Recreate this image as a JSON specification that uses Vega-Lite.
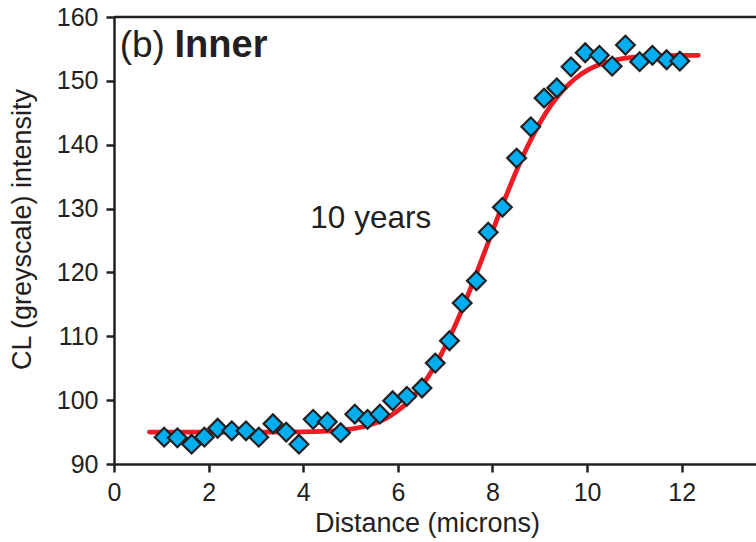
{
  "$schema": "https://vega.github.io/schema/vega-lite/v6.json",
  "width": 642,
  "height": 447,
  "autosize": "none",
  "padding": {"left": 114, "top": 17, "right": 0, "bottom": 78},
  "background": "white",
  "config": {
    "view": {"stroke": null},
    "font": "Liberation Sans",
    "axis": {
      "domainColor": "#231f20",
      "domainWidth": 2.5,
      "tickColor": "#231f20",
      "tickWidth": 2.5,
      "tickSize": 8,
      "labelColor": "#231f20",
      "titleColor": "#231f20",
      "labelFont": "Liberation Sans",
      "titleFont": "Liberation Sans",
      "labelFontSize": 25,
      "titleFontSize": 27,
      "titleFontWeight": "normal",
      "grid": false
    }
  },
  "datasets": {
    "points": [
      {"distance": 1.06, "intensity": 94.2},
      {"distance": 1.34, "intensity": 94.1},
      {"distance": 1.64, "intensity": 93.1},
      {"distance": 1.91, "intensity": 94.2},
      {"distance": 2.19, "intensity": 95.6},
      {"distance": 2.49, "intensity": 95.2},
      {"distance": 2.79, "intensity": 95.2},
      {"distance": 3.06, "intensity": 94.2},
      {"distance": 3.36, "intensity": 96.3},
      {"distance": 3.64, "intensity": 95.0},
      {"distance": 3.91, "intensity": 93.1},
      {"distance": 4.21, "intensity": 97.0},
      {"distance": 4.51, "intensity": 96.6},
      {"distance": 4.79, "intensity": 94.9},
      {"distance": 5.09, "intensity": 97.8},
      {"distance": 5.36, "intensity": 97.0},
      {"distance": 5.62, "intensity": 97.8},
      {"distance": 5.89, "intensity": 99.9},
      {"distance": 6.19, "intensity": 100.6},
      {"distance": 6.51, "intensity": 101.9},
      {"distance": 6.79, "intensity": 105.8},
      {"distance": 7.09, "intensity": 109.3},
      {"distance": 7.36, "intensity": 115.2},
      {"distance": 7.66, "intensity": 118.7},
      {"distance": 7.91, "intensity": 126.3},
      {"distance": 8.21, "intensity": 130.2},
      {"distance": 8.51, "intensity": 137.9},
      {"distance": 8.81, "intensity": 142.8},
      {"distance": 9.09, "intensity": 147.3},
      {"distance": 9.36, "intensity": 148.9},
      {"distance": 9.66, "intensity": 152.2},
      {"distance": 9.96, "intensity": 154.4},
      {"distance": 10.26, "intensity": 154.0},
      {"distance": 10.53, "intensity": 152.3},
      {"distance": 10.81, "intensity": 155.6},
      {"distance": 11.11, "intensity": 153.0},
      {"distance": 11.38, "intensity": 154.0},
      {"distance": 11.68, "intensity": 153.3},
      {"distance": 11.96, "intensity": 153.1}
    ],
    "fit": [
      {"distance": 0.75, "intensity": 95.0},
      {"distance": 2.0, "intensity": 95.0},
      {"distance": 3.0, "intensity": 95.0},
      {"distance": 4.0, "intensity": 95.02},
      {"distance": 4.5, "intensity": 95.14},
      {"distance": 5.0, "intensity": 95.46},
      {"distance": 5.25, "intensity": 95.8},
      {"distance": 5.5, "intensity": 96.34},
      {"distance": 5.75, "intensity": 97.16},
      {"distance": 6.0, "intensity": 98.35},
      {"distance": 6.25, "intensity": 99.99},
      {"distance": 6.5, "intensity": 102.17},
      {"distance": 6.75, "intensity": 104.97},
      {"distance": 7.0, "intensity": 108.37},
      {"distance": 7.25, "intensity": 112.35},
      {"distance": 7.5, "intensity": 116.79},
      {"distance": 7.75, "intensity": 121.57},
      {"distance": 8.0, "intensity": 126.46},
      {"distance": 8.25, "intensity": 131.27},
      {"distance": 8.5, "intensity": 135.8},
      {"distance": 8.75, "intensity": 139.87},
      {"distance": 9.0, "intensity": 143.4},
      {"distance": 9.25, "intensity": 146.31},
      {"distance": 9.5, "intensity": 148.62},
      {"distance": 9.75, "intensity": 150.37},
      {"distance": 10.0, "intensity": 151.63},
      {"distance": 10.25, "intensity": 152.52},
      {"distance": 10.5, "intensity": 153.11},
      {"distance": 10.75, "intensity": 153.48},
      {"distance": 11.0, "intensity": 153.71},
      {"distance": 11.5, "intensity": 153.92},
      {"distance": 12.0, "intensity": 153.99},
      {"distance": 12.35, "intensity": 154.0}
    ],
    "one": [{}]
  },
  "layer": [
    {
      "data": {"name": "fit"},
      "mark": {"type": "line", "color": "#ed1c24", "strokeWidth": 4.8, "strokeCap": "round", "interpolate": "monotone"},
      "encoding": {
        "x": {
          "field": "distance",
          "type": "quantitative",
          "scale": {"domain": [0, 13.57], "nice": false, "zero": false},
          "axis": {
            "title": "Distance (microns)",
            "values": [0, 2, 4, 6, 8, 10, 12],
            "labelPadding": 8,
            "titleX": 313,
            "titleY": 67,
            "titleAlign": "center",
            "titleBaseline": "alphabetic",
            "labelFlush": false
          }
        },
        "y": {
          "field": "intensity",
          "type": "quantitative",
          "scale": {"domain": [90, 160], "nice": false, "zero": false},
          "axis": {
            "title": "CL (greyscale) intensity",
            "values": [90, 100, 110, 120, 130, 140, 150, 160],
            "labelPadding": 8,
            "titleAngle": -90,
            "titleX": -84,
            "titleY": 212,
            "titleAlign": "center",
            "titleBaseline": "alphabetic",
            "labelFlush": false
          }
        }
      }
    },
    {
      "data": {"name": "points"},
      "mark": {"type": "point", "shape": "diamond", "filled": true, "fill": "#00aeef", "stroke": "#231f20", "strokeWidth": 2.2, "size": 350, "opacity": 1},
      "encoding": {
        "x": {"field": "distance", "type": "quantitative"},
        "y": {"field": "intensity", "type": "quantitative"}
      }
    },
    {
      "data": {"name": "one"},
      "mark": {"type": "rule", "color": "#231f20", "strokeWidth": 2.5},
      "encoding": {"y": {"datum": 160}}
    },
    {
      "data": {"name": "one"},
      "mark": {"type": "text", "text": "(b)", "fontSize": 37, "align": "left", "baseline": "alphabetic", "color": "#231f20"},
      "encoding": {"x": {"datum": 0.12}, "y": {"datum": 153.7}}
    },
    {
      "data": {"name": "one"},
      "mark": {"type": "text", "text": "Inner", "fontSize": 38, "fontWeight": "bold", "align": "left", "baseline": "alphabetic", "color": "#231f20"},
      "encoding": {"x": {"datum": 1.28}, "y": {"datum": 153.7}}
    },
    {
      "data": {"name": "one"},
      "mark": {"type": "text", "text": "10 years", "fontSize": 31.5, "align": "left", "baseline": "alphabetic", "color": "#231f20"},
      "encoding": {"x": {"datum": 4.15}, "y": {"datum": 126.9}}
    }
  ]
}
